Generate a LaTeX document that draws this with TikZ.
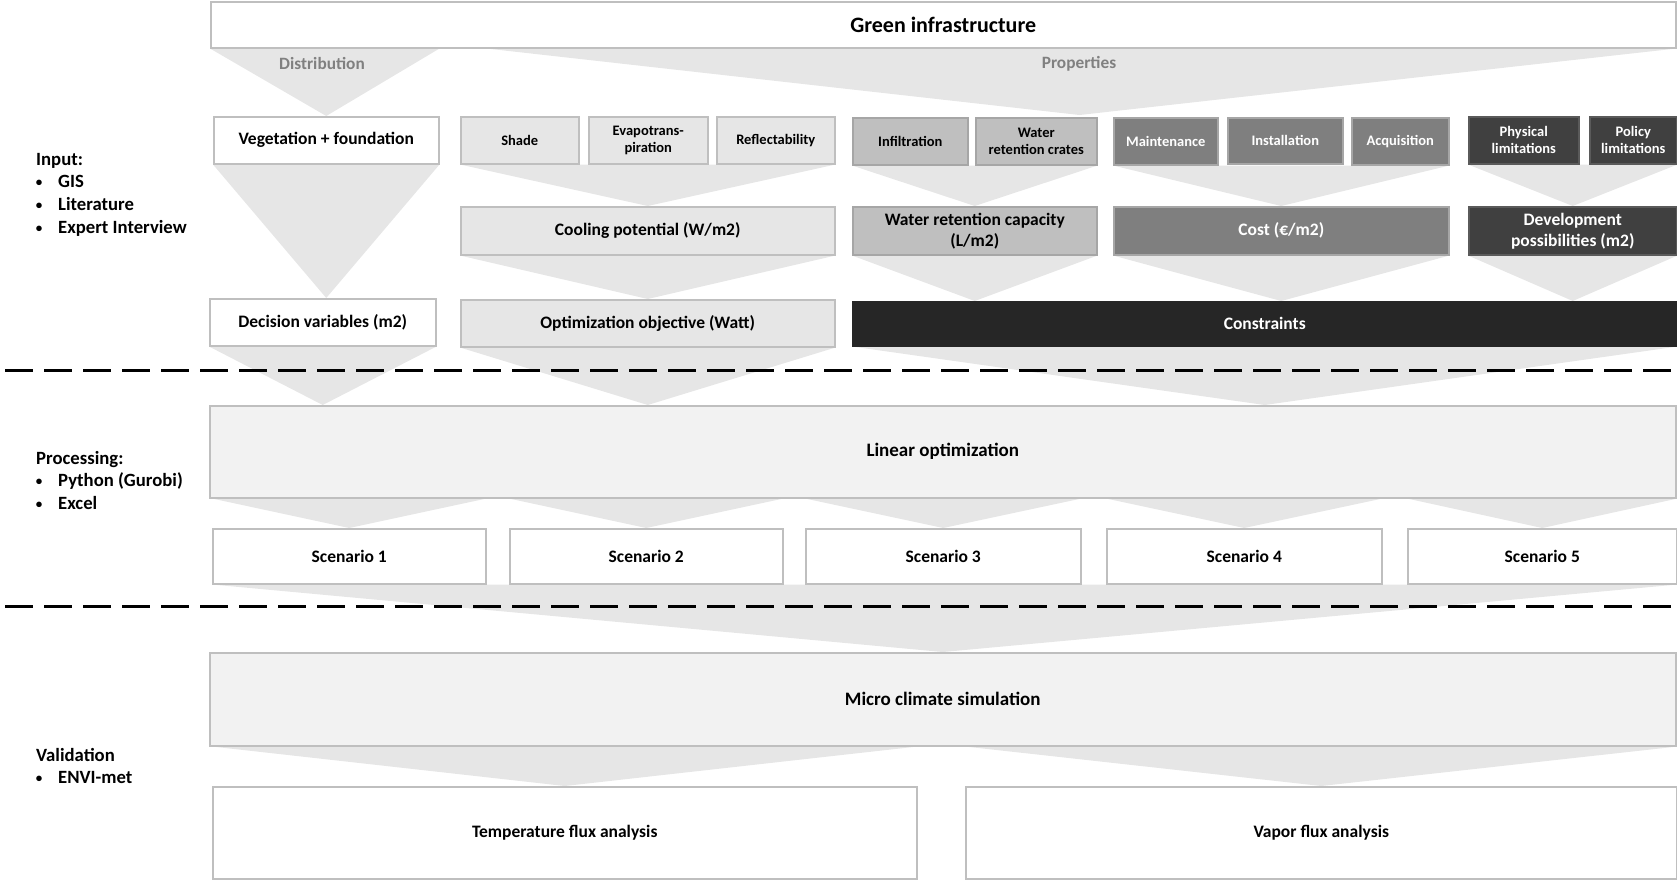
\documentclass[tikz,border=0pt]{standalone}
\usepackage{fontspec}
\setmainfont{Carlito}
\usetikzlibrary{backgrounds,calc}
\definecolor{trifill}{HTML}{E6E6E6}
\definecolor{edgegray}{HTML}{BFBFBF}
\definecolor{lightfill}{HTML}{E6E6E6}
\definecolor{midfill}{HTML}{BFBFBF}
\definecolor{midedge}{HTML}{A6A6A6}
\definecolor{darkfill}{HTML}{7F7F7F}
\definecolor{darkerfill}{HTML}{404040}
\definecolor{darkeredge}{HTML}{5A5A5A}
\definecolor{blackfill}{HTML}{262626}
\definecolor{palefill}{HTML}{F2F2F2}
\definecolor{labelgray}{HTML}{808080}
\newcommand\bx[7]{\node[#1, minimum width={#5-#3}, minimum height={#6-#4}] (#2) at (#3,#4) {#7};}
\begin{document}
\begin{tikzpicture}[x=1pt,y=-1pt,
  base/.style={draw=edgegray, line width=1.5pt, inner sep=0pt, anchor=north west, align=center, text=black,
    font=\bfseries\fontsize{17.5}{21}\selectfont},
  whitebox/.style={base, fill=white},
  smallfont/.style={font=\bfseries\fontsize{14.5}{17}\selectfont},
  lightbox/.style={base, fill=lightfill},
  midbox/.style={base, fill=midfill, draw=midedge},
  darkbox/.style={base, fill=darkfill, draw=midedge, text=white},
  darkerbox/.style={base, fill=darkerfill, draw=darkeredge, text=white},
  blackbox/.style={base, fill=blackfill, draw=blackfill, text=white},
  palebox/.style={base, fill=palefill, font=\bfseries\fontsize{19}{23}\selectfont},
  tri/.style={fill=trifill},
  sidetxt/.style={anchor=base west, inner sep=0pt, font=\bfseries\fontsize{18.7}{22}\selectfont},
  bulletdot/.style={anchor=base, inner sep=0pt, font=\bfseries\fontsize{13}{16}\selectfont},
  triLabel/.style={inner sep=0pt, text=labelgray, font=\bfseries\fontsize{17.3}{20}\selectfont},
  sepline/.style={line width=3pt, dash pattern=on 28pt off 11pt}
]
\useasboundingbox (0,0) rectangle (1677,879);
% top
\bx{whitebox, font=\bfseries\fontsize{22}{26}\selectfont}{gi}{210}{1}{1675}{47}{Green infrastructure}
% row 1
\bx{whitebox}{veg}{213}{116}{438}{163}{Vegetation + foundation}
\bx{lightbox, smallfont}{shade}{460}{116}{578}{163}{Shade}
\bx{lightbox, smallfont}{evap}{588}{116}{707}{163}{Evapotrans-\\piration}
\bx{lightbox, smallfont}{refl}{716}{116}{834}{163}{Reflectability}
\bx{midbox, smallfont}{infil}{852}{117}{967}{164}{Infiltration}
\bx{midbox, smallfont}{water}{975}{117}{1096}{164}{Water\\retention crates}
\bx{darkbox, smallfont}{maint}{1113}{117}{1217}{164}{Maintenance}
\bx{darkbox, smallfont}{inst}{1227}{117}{1342}{163}{Installation}
\bx{darkbox, smallfont}{acq}{1351}{117}{1448}{164}{Acquisition}
\bx{darkerbox, smallfont}{phys}{1468}{116}{1578}{163}{Physical\\limitations}
\bx{darkerbox, smallfont}{policy}{1589}{116}{1676}{163}{Policy\\limitations}
% row 2
\bx{lightbox}{cool}{460}{206}{834}{254}{Cooling potential (W/m2)}
\bx{midbox}{wrc}{852}{206}{1096}{254}{Water retention capacity\\(L/m2)}
\bx{darkbox}{cost}{1113}{206}{1448}{254}{Cost (€/m2)}
\bx{darkerbox}{dev}{1468}{206}{1676}{254}{Development\\possibilities (m2)}
% row 3
\bx{whitebox}{dec}{209}{298}{435}{345}{Decision variables (m2)}
\bx{lightbox}{opt}{460}{299}{834}{346}{Optimization objective (Watt)}
\bx{blackbox}{con}{852}{301}{1676}{345}{Constraints}
% processing
\bx{palebox}{lin}{209}{405}{1675}{497}{Linear optimization}
\bx{whitebox}{sc1}{212}{528}{485}{583}{Scenario 1}
\bx{whitebox}{sc2}{509}{528}{782}{583}{Scenario 2}
\bx{whitebox}{sc3}{805}{528}{1080}{583}{Scenario 3}
\bx{whitebox}{sc4}{1106}{528}{1381}{583}{Scenario 4}
\bx{whitebox}{sc5}{1407}{528}{1676}{583}{Scenario 5}
% validation
\bx{palebox}{micro}{209}{652}{1675}{745}{Micro climate simulation}
\bx{whitebox}{temp}{212}{786}{916}{878}{Temperature flux analysis}
\bx{whitebox}{vapor}{965}{786}{1676}{878}{Vapor flux analysis}
% helper coordinates
\coordinate (propL) at (482,48);
\coordinate (propT) at (1079.5,115);
\coordinate (sepLa) at (5,370);
\coordinate (sepLb) at (1677,370);
\coordinate (sepMa) at (5,606);
\coordinate (sepMb) at (1677,606);
% triangles
\begin{pgfonlayer}{background}
\fill[tri] (gi.south west) -- (gi.south west -| veg.south east) -- (veg.north) -- cycle;
\fill[tri] (propL) -- (gi.south east) -- (propT) -- cycle;
\fill[tri] (veg.south west) -- (veg.south east) -- (veg.south |- dec.north) -- cycle;
\fill[tri] (shade.south west) -- (refl.south east) -- (cool.north) -- cycle;
\fill[tri] (infil.south west) -- (water.south east) -- (wrc.north) -- cycle;
\fill[tri] (maint.south west) -- (acq.south east) -- (cost.north) -- cycle;
\fill[tri] (phys.south west) -- (policy.south east) -- (dev.north) -- cycle;
\fill[tri] (cool.south west) -- (cool.south east) -- (opt.north) -- cycle;
\fill[tri] (wrc.south west) -- (wrc.south east) -- (wrc.south |- con.north) -- cycle;
\fill[tri] (cost.south west) -- (cost.south east) -- (cost.south |- con.north) -- cycle;
\fill[tri] (dev.south west) -- (dev.south east) -- (dev.south |- con.north) -- cycle;
\fill[tri] (dec.south west) -- (dec.south east) -- (dec.south |- lin.north) -- cycle;
\fill[tri] (opt.south west) -- (opt.south east) -- (opt.south |- lin.north) -- cycle;
\fill[tri] (con.south west) -- (con.south east) -- (con.south |- lin.north) -- cycle;
\foreach \s in {sc1,sc2,sc3,sc4,sc5}{
  \fill[tri] (\s.north west |- lin.south) -- (\s.north east |- lin.south) -- (\s.north) -- cycle;
}
\fill[tri] (sc1.south west) -- (sc5.south east) -- (micro.north) -- cycle;
\fill[tri] (temp.north west |- micro.south) -- (temp.north east |- micro.south) -- (temp.north) -- cycle;
\fill[tri] (vapor.north west |- micro.south) -- (vapor.north east |- micro.south) -- (vapor.north) -- cycle;
\end{pgfonlayer}
% triangle labels
\node[triLabel] (distlbl) at (322,63) {Distribution};
\node[triLabel] (proplbl) at (1079,64) {Properties};
% separators
\draw[sepline] (sepLa) -- (sepLb);
\draw[sepline] (sepMa) -- (sepMb);
% side texts
\node[sidetxt] (inH) at (36,165) {Input:};
\node[bulletdot] (b1) at (39,186) {•}; \node[sidetxt] (in1) at (58,187) {GIS};
\node[bulletdot] (b2) at (39,209) {•}; \node[sidetxt] (in2) at (58,210) {Literature};
\node[bulletdot] (b3) at (39,232) {•}; \node[sidetxt] (in3) at (58,233) {Expert Interview};
\node[sidetxt] (prH) at (36,464) {Processing:};
\node[bulletdot] (b4) at (39,485) {•}; \node[sidetxt] (pr1) at (58,486) {Python (Gurobi)};
\node[bulletdot] (b5) at (39,508) {•}; \node[sidetxt] (pr2) at (58,509) {Excel};
\node[sidetxt] (vaH) at (36,761) {Validation};
\node[bulletdot] (b6) at (39,782) {•}; \node[sidetxt] (va1) at (58,783) {ENVI-met};
\end{tikzpicture}
\end{document}
